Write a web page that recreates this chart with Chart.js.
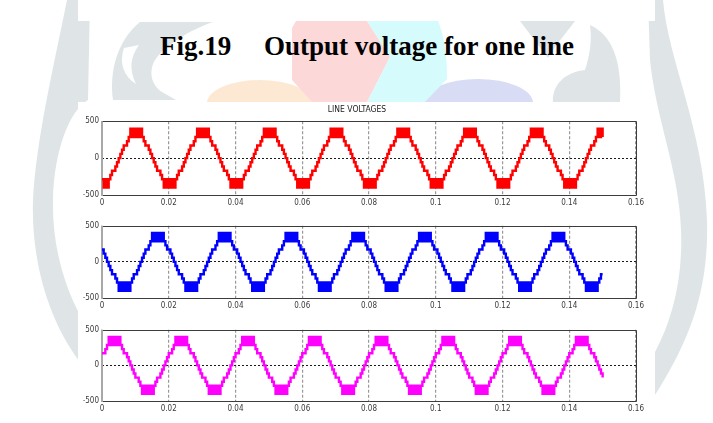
<!DOCTYPE html>
<html>
<head>
<meta charset="utf-8">
<script src="https://cdn.jsdelivr.net/npm/chart.js@4/dist/chart.umd.min.js"></script>
<style>
  html, body { margin: 0; padding: 0; background: #fff; }
  #page { position: relative; width: 713px; height: 423px; overflow: hidden; background: #fff; }
  #bg { position: absolute; left: 0; top: 0; }
  .cap { position: absolute; top: 31px; font: bold 27px "Liberation Serif", "Times New Roman", serif; color: #000; white-space: nowrap; }
  .plot { position: absolute; left: 78px; width: 575px; }
</style>
</head>
<body>
<div id="page">
  <svg id="bg" width="713" height="423" viewBox="0 0 713 423">
    <g fill="#dfe5e7">
      <path d="M67,0 C55,60 36,140 33,200 C31,260 48,320 80,362 L80,315 C64,285 52,245 53,200 C54,150 70,110 88,100 L90,0 Z"/>
      <path d="M648,0 L663,0 C668,60 704,130 707,220 C709,290 690,340 655,395 L655,352 C672,320 683,280 681,230 C679,170 656,120 650,60 Z"/>
      <path d="M113,100 C109,70 118,40 140,22 L213,22 C190,30 165,45 155,60 C149,70 150,84 162,92 L176,100 Z"/>
      <path d="M520,21 L575,21 C565,35 555,45 548,58 Z"/>
      <path d="M590,25 C612,35 622,60 620,102 L553,102 C552,85 565,72 585,70 C590,55 592,40 590,25 Z"/>
    </g>
    <path d="M124,48 C119,62 123,76 136,84 C129,70 130,57 139,45 Z" fill="#fff"/>
    <ellipse cx="260" cy="103" rx="53" ry="23" fill="#fde9d3"/>
    <ellipse cx="478" cy="103" rx="55" ry="24" fill="#d8ddf5"/>
    <path d="M296,21 L367,21 L390,57 L367,102 L312,102 L292,80 L292,28 Z" fill="#fdd8d9"/>
    <path d="M367,21 L438,21 C444,35 447,55 447,79 L425,102 L367,102 L390,57 Z" fill="#d5fbfc"/>
    <rect x="78" y="0" width="577" height="21" fill="#fff"/>
    <rect x="78" y="102" width="577" height="321" fill="#fff"/>
  </svg>

  <div class="cap" style="left:160px">Fig.19</div>
  <div class="cap" style="left:264px">Output voltage for one line</div>

  <div class="plot" style="top:104px;height:105px"><canvas id="c1"></canvas></div>
  <div class="plot" style="top:218px;height:94px"><canvas id="c2"></canvas></div>
  <div class="plot" style="top:322px;height:93px"><canvas id="c3"></canvas></div>
</div>

<script>
// Line voltages of the multilevel inverter, sampled every 0.5 ms from 0 to 0.15 s
const redV = [
  -286,-400,-286,-400,-286,-229,-171,-171,-114,-57,0,57,114,171,171,229,286,400,286,400,286,400,286,400,286,229,171,171,114,57,0,-57,-114,-171,-171,-229,-286,-400,-286,-400,
  -286,-400,-286,-400,-286,-229,-171,-171,-114,-57,0,57,114,171,171,229,286,400,286,400,286,400,286,400,286,229,171,171,114,57,0,-57,-114,-171,-171,-229,-286,-400,-286,-400,
  -286,-400,-286,-400,-286,-229,-171,-171,-114,-57,0,57,114,171,171,229,286,400,286,400,286,400,286,400,286,229,171,171,114,57,0,-57,-114,-171,-171,-229,-286,-400,-286,-400,
  -286,-400,-286,-400,-286,-229,-171,-171,-114,-57,0,57,114,171,171,229,286,400,286,400,286,400,286,400,286,229,171,171,114,57,0,-57,-114,-171,-171,-229,-286,-400,-286,-400,
  -286,-400,-286,-400,-286,-229,-171,-171,-114,-57,0,57,114,171,171,229,286,400,286,400,286,400,286,400,286,229,171,171,114,57,0,-57,-114,-171,-171,-229,-286,-400,-286,-400,
  -286,-400,-286,-400,-286,-229,-171,-171,-114,-57,0,57,114,171,171,229,286,400,286,400,286,400,286,400,286,229,171,171,114,57,0,-57,-114,-171,-171,-229,-286,-400,-286,-400,
  -286,-400,-286,-400,-286,-229,-171,-171,-114,-57,0,57,114,171,171,229,286,400,286,400,286,400,286,400,286,229,171,171,114,57,0,-57,-114,-171,-171,-229,-286,-400,-286,-400,
  -286,-400,-286,-400,-286,-229,-171,-171,-114,-57,0,57,114,171,171,229,286,400,286,400,286
];
const blueV = [
  171,114,57,0,-57,-114,-171,-171,-229,-286,-400,-286,-400,-286,-400,-286,-400,-286,-229,-171,-171,-114,-57,0,57,114,171,171,229,286,400,286,400,286,400,286,400,286,229,171,
  171,114,57,0,-57,-114,-171,-171,-229,-286,-400,-286,-400,-286,-400,-286,-400,-286,-229,-171,-171,-114,-57,0,57,114,171,171,229,286,400,286,400,286,400,286,400,286,229,171,
  171,114,57,0,-57,-114,-171,-171,-229,-286,-400,-286,-400,-286,-400,-286,-400,-286,-229,-171,-171,-114,-57,0,57,114,171,171,229,286,400,286,400,286,400,286,400,286,229,171,
  171,114,57,0,-57,-114,-171,-171,-229,-286,-400,-286,-400,-286,-400,-286,-400,-286,-229,-171,-171,-114,-57,0,57,114,171,171,229,286,400,286,400,286,400,286,400,286,229,171,
  171,114,57,0,-57,-114,-171,-171,-229,-286,-400,-286,-400,-286,-400,-286,-400,-286,-229,-171,-171,-114,-57,0,57,114,171,171,229,286,400,286,400,286,400,286,400,286,229,171,
  171,114,57,0,-57,-114,-171,-171,-229,-286,-400,-286,-400,-286,-400,-286,-400,-286,-229,-171,-171,-114,-57,0,57,114,171,171,229,286,400,286,400,286,400,286,400,286,229,171,
  171,114,57,0,-57,-114,-171,-171,-229,-286,-400,-286,-400,-286,-400,-286,-400,-286,-229,-171,-171,-114,-57,0,57,114,171,171,229,286,400,286,400,286,400,286,400,286,229,171,
  171,114,57,0,-57,-114,-171,-171,-229,-286,-400,-286,-400,-286,-400,-286,-400,-286,-229,-171,-171
];
const magentaV = [
  171,171,229,286,400,286,400,286,400,286,400,286,229,171,171,114,57,0,-57,-114,-171,-171,-229,-286,-400,-286,-400,-286,-400,-286,-400,-286,-229,-171,-171,-114,-57,0,57,114,
  171,171,229,286,400,286,400,286,400,286,400,286,229,171,171,114,57,0,-57,-114,-171,-171,-229,-286,-400,-286,-400,-286,-400,-286,-400,-286,-229,-171,-171,-114,-57,0,57,114,
  171,171,229,286,400,286,400,286,400,286,400,286,229,171,171,114,57,0,-57,-114,-171,-171,-229,-286,-400,-286,-400,-286,-400,-286,-400,-286,-229,-171,-171,-114,-57,0,57,114,
  171,171,229,286,400,286,400,286,400,286,400,286,229,171,171,114,57,0,-57,-114,-171,-171,-229,-286,-400,-286,-400,-286,-400,-286,-400,-286,-229,-171,-171,-114,-57,0,57,114,
  171,171,229,286,400,286,400,286,400,286,400,286,229,171,171,114,57,0,-57,-114,-171,-171,-229,-286,-400,-286,-400,-286,-400,-286,-400,-286,-229,-171,-171,-114,-57,0,57,114,
  171,171,229,286,400,286,400,286,400,286,400,286,229,171,171,114,57,0,-57,-114,-171,-171,-229,-286,-400,-286,-400,-286,-400,-286,-400,-286,-229,-171,-171,-114,-57,0,57,114,
  171,171,229,286,400,286,400,286,400,286,400,286,229,171,171,114,57,0,-57,-114,-171,-171,-229,-286,-400,-286,-400,-286,-400,-286,-400,-286,-229,-171,-171,-114,-57,0,57,114,
  171,171,229,286,400,286,400,286,400,286,400,286,229,171,171,114,57,0,-57,-114,-171
];

const xTicks = [0, 0.02, 0.04, 0.06, 0.08, 0.1, 0.12, 0.14, 0.16];
const yTicks = [-500, 0, 500];

// sample instants (s)
const SAMPLE_STEP = 0.0005;
const times = redV.map((_, i) => +(i * SAMPLE_STEP).toFixed(4));

const tickFont = { family: '"Liberation Sans Narrow", "DejaVu Sans Condensed", Arial, sans-serif', size: 8 };

// axes box: dark top/right/bottom, grey left spine
const boxPlugin = {
  id: 'box',
  beforeDatasetsDraw(chart) {
    const { ctx, chartArea: a } = chart;
    ctx.save();
    ctx.strokeStyle = '#3c3c3c';
    ctx.lineWidth = 1;
    ctx.beginPath();
    ctx.moveTo(a.left, Math.round(a.top) + 0.5);
    ctx.lineTo(Math.round(a.right) + 0.5, Math.round(a.top) + 0.5);
    ctx.lineTo(Math.round(a.right) + 0.5, Math.round(a.bottom) + 0.5);
    ctx.lineTo(a.left, Math.round(a.bottom) + 0.5);
    ctx.stroke();
    ctx.strokeStyle = '#a8a8a8';
    ctx.lineWidth = 2;
    ctx.beginPath();
    ctx.moveTo(Math.round(a.left), a.top);
    ctx.lineTo(Math.round(a.left), a.bottom + 1);
    ctx.stroke();
    ctx.restore();
  }
};

function makePlot(id, values, color, title) {
  return new Chart(document.getElementById(id), {
    type: 'line',
    data: {
      labels: times,
      datasets: [{
        data: values,
        borderColor: color,
        borderWidth: 2.4,
        stepped: true,
        pointRadius: 0,
        fill: false
      }]
    },
    options: {
      responsive: true,
      maintainAspectRatio: false,
      animation: false,
      events: [],
      layout: { padding: { top: title ? 0 : 6, right: 17, left: 0, bottom: 0 } },
      plugins: {
        legend: { display: false },
        tooltip: { enabled: false },
        title: {
          display: !!title,
          text: title || '',
          color: '#222',
          font: { family: tickFont.family, size: 8.5, weight: 'normal' },
          padding: { top: 1, bottom: 6 }
        }
      },
      scales: {
        x: {
          type: 'linear',
          min: 0,
          max: 0.16,
          afterBuildTicks: (s) => { s.ticks = xTicks.map(v => ({ value: v })); },
          afterFit: (s) => { s.height = 14; },
          ticks: {
            color: '#3a3a3a',
            font: tickFont,
            padding: 3,
            maxRotation: 0,
            autoSkip: false,
            callback: (v) => String(+Number(v).toFixed(2))
          },
          grid: { color: '#999', lineWidth: 1.2, drawTicks: false },
          border: { display: false, dash: [3, 2] }
        },
        y: {
          min: -500,
          max: 500,
          afterBuildTicks: (s) => { s.ticks = yTicks.map(v => ({ value: v })); },
          afterFit: (s) => { s.width = 24; },
          ticks: {
            color: '#3a3a3a',
            font: tickFont,
            padding: 3,
            callback: (v) => String(v)
          },
          grid: {
            color: (c) => (c.tick && c.tick.value === 0 ? '#1a1a1a' : 'rgba(0,0,0,0)'),
            lineWidth: 1,
            drawTicks: false
          },
          border: { display: false, dash: [2, 2] }
        }
      }
    },
    plugins: [boxPlugin]
  });
}

makePlot('c1', redV, '#ff0000', 'LINE VOLTAGES');
makePlot('c2', blueV, '#0000ff');
makePlot('c3', magentaV, '#ff00ff');
</script>
</body>
</html>
